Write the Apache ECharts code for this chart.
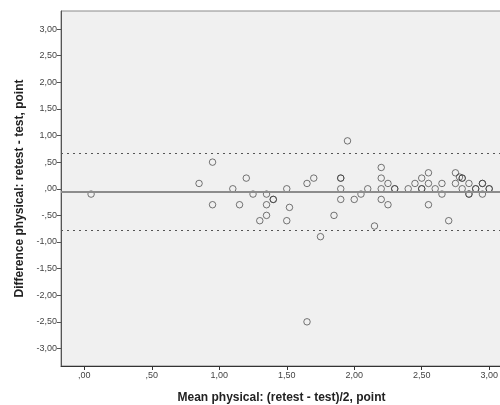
<!DOCTYPE html>
<html>
<head>
<meta charset="utf-8">
<script src="https://cdn.jsdelivr.net/npm/echarts@6/dist/echarts.min.js"></script>
<style>html,body{margin:0;padding:0;background:#fff}#c{width:500px;height:405px}</style>
</head>
<body>
<div id="c"></div>
<script>
// Mean of retest and test (x) and difference retest - test (y)
const meanValues = [0.05,0.85,0.95,0.95,1.1,1.15,1.2,1.25,1.3,1.35,1.35,1.35,1.4,1.4,1.5,1.52,1.5,1.65,1.65,1.7,1.75,1.85,1.9,1.9,1.9,1.9,1.95,2.0,2.05,2.1,2.15,2.2,2.2,2.2,2.2,2.25,2.25,2.3,2.3,2.4,2.45,2.5,2.5,2.5,2.55,2.55,2.55,2.6,2.65,2.65,2.7,2.75,2.75,2.78,2.8,2.8,2.8,2.85,2.85,2.85,2.9,2.9,2.95,2.95,2.95,3.0,3.0];
const diffValues = [-0.1,0.1,0.5,-0.3,0,-0.3,0.2,-0.1,-0.6,-0.1,-0.3,-0.5,-0.2,-0.2,0,-0.35,-0.6,0.1,-2.5,0.2,-0.9,-0.5,0.2,0.2,0,-0.2,0.9,-0.2,-0.1,0,-0.7,0.4,0.2,0,-0.2,0.1,-0.3,0,0,0,0.1,0.2,0,0,0.3,0.1,-0.3,0,0.1,-0.1,-0.6,0.3,0.1,0.22,0.2,0.2,0,0.1,-0.1,-0.1,0,0,0.1,0.1,-0.1,0,0];
const meanDiff = -0.06;
const upperLoA = 0.665;
const lowerLoA = -0.78;
const xTicks = [0,0.5,1,1.5,2,2.5,3];
const yTicks = [-3,-2.5,-2,-1.5,-1,-0.5,0,0.5,1,1.5,2,2.5,3];

const points = meanValues.map((m,i)=>[m,diffValues[i]]);
function fmt(v){
  let s = Math.abs(v).toFixed(2).replace('.',',');
  if (s.startsWith('0,')) s = s.slice(1);
  return (v < 0 ? '-' : '') + s;
}
const font = 'Liberation Sans, Arial, sans-serif';
const chart = echarts.init(document.getElementById('c'), null, {renderer:'canvas'});
chart.setOption({
  animation:false,
  grid:{left:61,top:11,right:-2,bottom:39,containLabel:false,outerBoundsMode:'none',show:true,backgroundColor:'#f0f0f0',borderColor:'#8a8a8a',borderWidth:1},
  xAxis:{
    type:'value',min:-0.173,max:3.095,
    name:'Mean physical: (retest - test)/2, point',nameLocation:'middle',nameGap:26,
    nameTextStyle:{fontFamily:font,fontSize:12,fontWeight:'bold',color:'#222'},
    axisLine:{show:true,onZero:false,lineStyle:{color:'#333',width:1}},
    axisTick:{show:true,length:4,customValues:xTicks,lineStyle:{color:'#333'}},
    axisLabel:{customValues:xTicks,formatter:fmt,fontFamily:font,fontSize:9,color:'#444',margin:5},
    splitLine:{show:false}
  },
  yAxis:{
    type:'value',min:-3.33,max:3.34,
    name:'Difference physical: retest - test, point',nameLocation:'middle',nameGap:34,
    nameTextStyle:{fontFamily:font,fontSize:12,fontWeight:'bold',color:'#222'},
    axisLine:{show:true,onZero:false,lineStyle:{color:'#555',width:1}},
    axisTick:{show:true,length:4,customValues:yTicks,lineStyle:{color:'#555'}},
    axisLabel:{customValues:yTicks,formatter:fmt,fontFamily:font,fontSize:9,color:'#444',margin:4},
    splitLine:{show:false}
  },
  series:[{
    type:'scatter',data:points,symbol:'circle',symbolSize:6.5,
    itemStyle:{color:'rgba(0,0,0,0)',borderColor:'rgba(45,45,45,0.8)',borderWidth:1},
    markLine:{
      silent:true,symbol:'none',label:{show:false},
      data:[
        {yAxis:meanDiff,lineStyle:{type:'solid',color:'#8c8c8c',width:2}},
        {yAxis:upperLoA,lineStyle:{type:[2,4],color:'#555',width:1}},
        {yAxis:lowerLoA,lineStyle:{type:[2,4],color:'#555',width:1}}
      ]
    }
  }]
});
</script>
</body>
</html>
